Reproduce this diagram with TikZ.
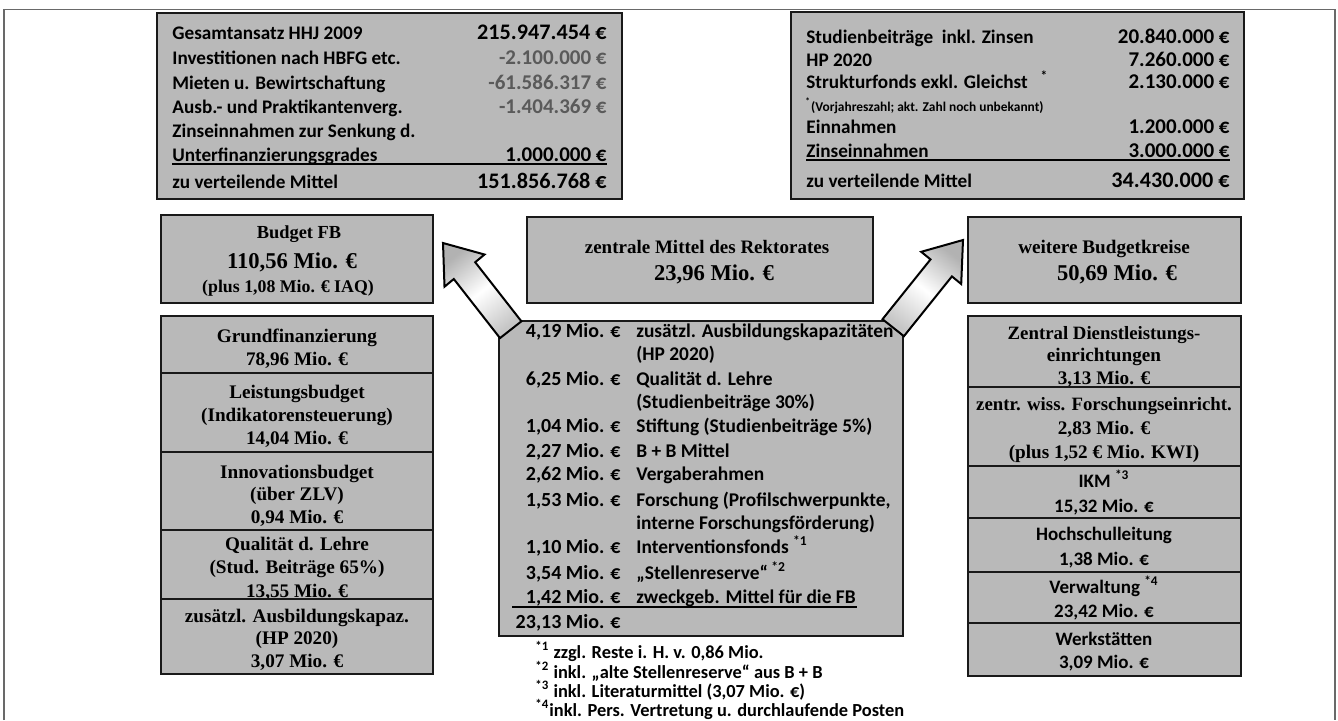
\documentclass[tikz,border=0pt]{standalone}
\usepackage{fontspec}
\setmainfont{Liberation Serif}
\newfontfamily\calfont{Carlito}
\usetikzlibrary{fit}
\definecolor{boxgray}{RGB}{185,185,185}
\definecolor{neggray}{RGB}{90,90,90}
\definecolor{framegray}{RGB}{105,105,105}
\tikzset{
  box/.style={draw=black!90, line width=1.4pt, fill=boxgray, inner sep=0pt},
  cb/.style={font=\calfont\bfseries\fontsize{9.6}{11}\selectfont, inner sep=0pt},
  cnum/.style={font=\calfont\bfseries\fontsize{10.5}{12}\selectfont, inner sep=0pt, anchor=base east},
  cbig/.style={font=\calfont\bfseries\fontsize{11.1}{13}\selectfont, inner sep=0pt, anchor=base east},
  cs/.style={font=\calfont\bfseries\fontsize{9.5}{11}\selectfont, inner sep=0pt},
  clw/.style={font=\calfont\bfseries\fontsize{9.7}{12}\selectfont, inner sep=0pt, anchor=base west},
  cle/.style={font=\calfont\bfseries\fontsize{10}{12}\selectfont, inner sep=0pt, anchor=base east},
  lw/.style={cb, anchor=base west},
  tm/.style={font=\bfseries\fontsize{9.6}{11}\selectfont, inner sep=0pt, anchor=base},
  tmbig/.style={font=\bfseries\fontsize{11.3}{13}\selectfont, inner sep=0pt, anchor=base},
  cc/.style={cs, anchor=base},
  fn/.style={font=\calfont\bfseries\fontsize{9.2}{11}\selectfont, inner sep=0pt, anchor=base west},
  blockarrow/.style={draw=black, line width=1pt, line join=miter, left color=gray!60, right color=gray!45, middle color=white},
  rule/.style={black, line width=0.9pt}
}
\begin{document}
\begin{tikzpicture}[x=0.5pt, y=-0.5pt]
\useasboundingbox (0,0) rectangle (1338,720);
\draw[framegray, line width=0.8pt] (4,720) -- (4,9.5) -- (1335,9.5) -- (1335,720);

% ---------- top left box ----------
\node[box, fit={(157,13) (622,199)}] (tl) {};
\node[lw] (tl1) at (172,39) {Gesamtansatz HHJ 2009};
\node[cbig] (tl1v) at (607,39) {215.947.454 €};
\node[lw] (tl2) at (172,64) {Investitionen nach HBFG etc.};
\node[cnum, text=neggray] (tl2v) at (607,64) {-2.100.000 €};
\node[lw] (tl3) at (172,89) {Mieten u. Bewirtschaftung};
\node[cnum, text=neggray] (tl3v) at (607,89) {-61.586.317 €};
\node[lw] (tl4) at (172,113) {Ausb.- und Praktikantenverg.};
\node[cnum, text=neggray] (tl4v) at (607,113) {-1.404.369 €};
\node[lw] (tl5) at (172,137) {Zinseinnahmen zur Senkung d.};
\node[lw] (tl6) at (172,161) {Unterfinanzierungsgrades};
\node[cnum] (tl6v) at (607,161) {1.000.000 €};
\coordinate (tlu1) at (172,164);
\coordinate (tlu2) at (607,164);
\draw[rule] (tlu1) -- (tlu2);
\node[lw] (tl7) at (172,188) {zu verteilende Mittel};
\node[cbig] (tl7v) at (607,188) {151.856.768 €};

% ---------- top right box ----------
\node[box, fit={(791,12) (1244,199)}] (tr) {};
\node[lw] (tr1) at (806,43) {Studienbeiträge\ \ inkl. Zinsen};
\node[cnum] (tr1v) at (1230,43) {20.840.000 €};
\node[lw] (tr2) at (806,66) {HP 2020};
\node[cnum] (tr2v) at (1230,66) {7.260.000 €};
\node[lw] (tr3) at (806,88) {Strukturfonds exkl. Gleichst\ \ \ \textsuperscript{*}};
\node[cnum] (tr3v) at (1230,88) {2.130.000 €};
\node[font=\calfont\bfseries\fontsize{6.7}{7.5}\selectfont, inner sep=0pt, anchor=base west] (tr4) at (805,111) {\textsuperscript{*}(Vorjahreszahl; akt. Zahl noch unbekannt)};
\node[lw] (tr5) at (806,133) {Einnahmen};
\node[cnum] (tr5v) at (1230,133) {1.200.000 €};
\node[lw] (tr6) at (806,157) {Zinseinnahmen};
\node[cnum] (tr6v) at (1230,157) {3.000.000 €};
\coordinate (tru1) at (806,160);
\coordinate (tru2) at (1230,160);
\draw[rule] (tru1) -- (tru2);
\node[lw] (tr7) at (806,187) {zu verteilende Mittel};
\node[cbig] (tr7v) at (1230,187) {34.430.000 €};

% ---------- middle row boxes ----------
\node[box, fit={(161,215) (433,303)}] (fb) {};
\node[tm, font=\bfseries\fontsize{9.2}{11}\selectfont] (fb1) at (299,238) {Budget FB};
\node[tmbig] (fb2) at (292,268) {110,56 Mio. €};
\node[tm, font=\bfseries\fontsize{8.9}{10}\selectfont] (fb3) at (288,292) {(plus 1,08 Mio. € IAQ)};

\node[box, fit={(527,217) (873,303)}] (zm) {};
\node[tm, font=\bfseries\fontsize{9.5}{11}\selectfont] (zm1) at (707,253) {zentrale Mittel des Rektorates};
\node[tmbig] (zm2) at (714,280) {23,96 Mio. €};

\node[box, fit={(968,217) (1241,303)}] (wb) {};
\node[tm] (wb1) at (1104,253) {weitere Budgetkreise};
\node[tmbig] (wb2) at (1117,280) {50,69 Mio. €};

% ---------- left stack ----------
\node[box, fit={(161,316) (433,373)}] (lg) {};
\node[tm] (lg1) at (297,342) {Grundfinanzierung};
\node[tm] (lg2) at (297,365) {78,96 Mio. €};
\node[box, fit={(161,373) (433,452)}] (ll) {};
\node[tm] (ll1) at (297,398) {Leistungsbudget};
\node[tm] (ll2) at (297,421) {(Indikatorensteuerung)};
\node[tm] (ll3) at (297,444) {14,04 Mio. €};
\node[box, fit={(161,452) (433,530)}] (li) {};
\node[tm] (li1) at (297,478) {Innovationsbudget};
\node[tm] (li2) at (297,500) {(über ZLV)};
\node[tm] (li3) at (297,523) {0,94 Mio. €};
\node[box, fit={(161,530) (433,599)}] (lq) {};
\node[tm] (lq1) at (297,550) {Qualität d. Lehre};
\node[tm] (lq2) at (297,573) {(Stud. Beiträge 65\%)};
\node[tm] (lq3) at (297,597) {13,55 Mio. €};
\node[box, fit={(161,599) (433,674)}] (lz) {};
\node[tm] (lz1) at (297,622) {zusätzl. Ausbildungskapaz.};
\node[tm] (lz2) at (297,644) {(HP 2020)};
\node[tm] (lz3) at (297,667) {3,07 Mio. €};

% ---------- right stack ----------
\node[box, fit={(968,316) (1241,387)}] (rz) {};
\node[tm, font=\bfseries\fontsize{9.4}{11}\selectfont] (rz1) at (1104,339) {Zentral Dienstleistungs-};
\node[tm] (rz2) at (1104,361) {einrichtungen};
\node[tm] (rz3) at (1104,384) {3,13 Mio. €};
\node[box, fit={(968,387) (1241,466)}] (rw) {};
\node[tm, font=\bfseries\fontsize{9.4}{11}\selectfont] (rw1) at (1104,410) {zentr. wiss. Forschungseinricht.};
\node[tm] (rw2) at (1104,434) {2,83 Mio. €};
\node[tm] (rw3) at (1104,458) {(plus 1,52 € Mio. KWI)};
\node[box, fit={(968,466) (1241,518)}] (ri) {};
\node[cc] (ri1) at (1104,487) {IKM \textsuperscript{*3}};
\node[cc] (ri2) at (1104,512) {15,32 Mio. €};
\node[box, fit={(968,518) (1241,572)}] (rh) {};
\node[cc] (rh1) at (1104,540) {Hochschulleitung};
\node[cc] (rh2) at (1104,565) {1,38 Mio. €};
\node[box, fit={(968,572) (1241,623)}] (rv) {};
\node[cc] (rv1) at (1104,593) {Verwaltung \textsuperscript{*4}};
\node[cc] (rv2) at (1104,617) {23,42 Mio. €};
\node[box, fit={(968,623) (1241,676)}] (rk) {};
\node[cc] (rk1) at (1104,645) {Werkstätten};
\node[cc] (rk2) at (1104,668) {3,09 Mio. €};

% ---------- centre list ----------
\node[box, fit={(499,321) (903,636)}] (cl) {};
\node[cle] (c1a) at (621,337) {4,19 Mio. €};
\node[clw] (c1b) at (636,337) {zusätzl. Ausbildungskapazitäten};
\node[clw] (c1c) at (636,360) {(HP 2020)};
\node[cle] (c2a) at (621,385) {6,25 Mio. €};
\node[clw] (c2b) at (636,385) {Qualität d. Lehre};
\node[clw] (c2c) at (636,408) {(Studienbeiträge 30\%)};
\node[cle] (c3a) at (621,432) {1,04 Mio. €};
\node[clw] (c3b) at (636,432) {Stiftung (Studienbeiträge 5\%)};
\node[cle] (c4a) at (621,457) {2,27 Mio. €};
\node[clw] (c4b) at (636,457) {B + B Mittel};
\node[cle] (c5a) at (621,480) {2,62 Mio. €};
\node[clw] (c5b) at (636,480) {Vergaberahmen};
\node[cle] (c6a) at (621,506) {1,53 Mio. €};
\node[clw] (c6b) at (636,506) {Forschung (Profilschwerpunkte,};
\node[clw] (c6c) at (636,529) {interne Forschungsförderung)};
\node[cle] (c7a) at (621,553) {1,10 Mio. €};
\node[clw] (c7b) at (636,553) {Interventionsfonds \textsuperscript{*1}};
\node[cle] (c8a) at (621,579) {3,54 Mio. €};
\node[clw] (c8b) at (636,579) {„Stellenreserve“\,\textsuperscript{*2}};
\node[cle] (c9a) at (621,603) {1,42 Mio. €};
\node[clw] (c9b) at (636,603) {zweckgeb. Mittel für die FB};
\coordinate (clu1) at (512,607);
\coordinate (clu2) at (857,607);
\draw[rule] (clu1) -- (clu2);
\node[cle] (c10a) at (621,628) {23,13 Mio. €};

% ---------- footnotes ----------
\node[fn] (f1) at (535,658) {\textsuperscript{*1} zzgl. Reste i. H. v. 0,86 Mio.};
\node[fn] (f2) at (535,678) {\textsuperscript{*2} inkl. „alte Stellenreserve“ aus B + B};
\node[fn] (f3) at (535,697) {\textsuperscript{*3} inkl. Literaturmittel (3,07 Mio. €)};
\node[fn] (f4) at (535,716) {\textsuperscript{*4}inkl. Pers. Vertretung u. durchlaufende Posten};

% ---------- block arrows ----------
\shade[blockarrow, shading angle=38]
  (443,243) -- (484.5,254.5) -- (475.2,262.2) -- (521.4,321.3)
  -- (500.0,338.1) -- (453.8,279.0) -- (444.5,286.7) -- cycle;
\shade[blockarrow, shading angle=-38]
  (963,240) -- (961.2,284.0) -- (951.9,276.4) -- (903.9,336.2)
  -- (882.5,319.2) -- (930.5,259.4) -- (921.2,251.8) -- cycle;
\end{tikzpicture}
\end{document}
